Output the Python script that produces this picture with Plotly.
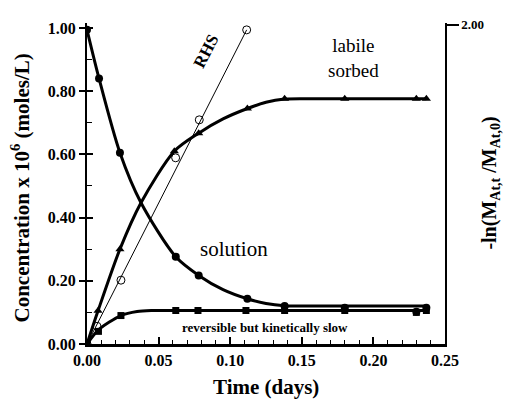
import plotly.graph_objects as go

# ---- data ----
# measured points (left axis, concentration x 1e6 mol/L)
t_solution = [0.0, 0.0084, 0.023, 0.062, 0.078, 0.112, 0.138, 0.180, 0.230, 0.237]
c_solution = [0.994, 0.84, 0.605, 0.276, 0.217, 0.143, 0.12, 0.115, 0.102, 0.115]

t_labile = [0.0077, 0.023, 0.061, 0.078, 0.112, 0.138, 0.180, 0.230, 0.237]
c_labile = [0.105, 0.30, 0.61, 0.667, 0.745, 0.776, 0.776, 0.776, 0.776]

t_reversible = [0.0, 0.008, 0.0237, 0.062, 0.0775, 0.111, 0.138, 0.180, 0.230, 0.237]
c_reversible = [0.0, 0.04, 0.09, 0.106, 0.106, 0.106, 0.106, 0.106, 0.10, 0.106]

# fitted curves
t_solution_fit = [0.0, 0.0084, 0.023, 0.0377, 0.062, 0.078, 0.095, 0.112, 0.125, 0.138, 0.16, 0.237]
c_solution_fit = [0.994, 0.84, 0.605, 0.447, 0.276, 0.217, 0.172, 0.143, 0.128, 0.121, 0.12, 0.12]

t_labile_fit = [0.0, 0.0077, 0.023, 0.0377, 0.061, 0.078, 0.095, 0.112, 0.125, 0.138, 0.16, 0.237]
c_labile_fit = [0.0, 0.105, 0.30, 0.447, 0.61, 0.667, 0.712, 0.745, 0.765, 0.775, 0.776, 0.776]

t_reversible_fit = [0.0, 0.008, 0.0237, 0.035, 0.045, 0.062, 0.237]
c_reversible_fit = [0.0, 0.045, 0.09, 0.103, 0.106, 0.106, 0.106]

# RHS (right axis, -ln(M_At,t / M_At,0))
t_rhs = [0.0, 0.007, 0.0237, 0.0619, 0.0784, 0.1115]
v_rhs = [0.0, 0.111, 0.40, 1.167, 1.405, 1.969]
t_rhs_fit = [0.0, 0.1115]
v_rhs_fit = [0.0, 1.969]

x_ticks = [0.0, 0.05, 0.10, 0.15, 0.20, 0.25]
y_ticks = [0.0, 0.2, 0.4, 0.6, 0.8, 1.0]
y2_ticks = [2.0]

FONT = "Liberation Serif"
BOLD = dict(family=FONT, size=16, color="black", weight="bold")

fig = go.Figure()

# fitted thick curves
for tx, ty in [(t_solution_fit, c_solution_fit), (t_labile_fit, c_labile_fit),
               (t_reversible_fit, c_reversible_fit)]:
    fig.add_trace(go.Scatter(x=tx, y=ty, mode="lines",
                             line=dict(color="black", width=3, shape="spline", smoothing=0.8),
                             hoverinfo="skip", showlegend=False))

# RHS line and points on right axis
fig.add_trace(go.Scatter(x=t_rhs_fit, y=v_rhs_fit, mode="lines", yaxis="y2",
                         line=dict(color="black", width=1), showlegend=False))
fig.add_trace(go.Scatter(x=t_rhs, y=v_rhs, mode="markers", yaxis="y2",
                         marker=dict(symbol="circle-open", size=8, color="black",
                                     line=dict(width=1, color="black")),
                         showlegend=False))

# measured markers
fig.add_trace(go.Scatter(x=t_solution, y=c_solution, mode="markers",
                         marker=dict(symbol="circle", size=8, color="black"), showlegend=False))
fig.add_trace(go.Scatter(x=t_labile, y=c_labile, mode="markers",
                         marker=dict(symbol="triangle-up", size=8, color="black"), showlegend=False))
fig.add_trace(go.Scatter(x=t_reversible, y=c_reversible, mode="markers",
                         marker=dict(symbol="square", size=7, color="black"), showlegend=False))

# the page body adds an 8px offset, so the figure is 8px smaller and margins shifted
fig.update_layout(
    width=506, height=393,
    margin=dict(l=79, r=69, t=9, b=57),
    paper_bgcolor="white", plot_bgcolor="white",
    font=dict(family=FONT, color="black"),
    xaxis=dict(range=[0, 0.25], tickvals=x_ticks,
               ticktext=[f"<b>{v:.2f}</b>" for v in x_ticks],
               showgrid=False, zeroline=False, showline=True, linecolor="black", linewidth=3,
               ticks="inside", ticklen=7, tickwidth=1.5, tickcolor="black",
               minor=dict(dtick=0.01, ticks="inside", ticklen=4, tickwidth=1, tickcolor="black"),
               tickfont=BOLD),
    yaxis=dict(range=[0, 1.0155], tickvals=y_ticks,
               ticktext=[f"<b>{v:.2f}</b>" for v in y_ticks],
               showgrid=False, zeroline=False, showline=True, linecolor="black", linewidth=2,
               ticks="outside", ticklen=6, tickwidth=1.5, tickcolor="black",
               minor=dict(dtick=0.1, ticks="inside", ticklen=5, tickwidth=1, tickcolor="black"),
               tickfont=BOLD),
    yaxis2=dict(range=[0, 2.012], overlaying="y", side="right", tickvals=y2_ticks,
                ticktext=["<b>2.00</b>"], showgrid=False, zeroline=False, showline=True,
                linecolor="black", linewidth=1.5, ticks="outside", ticklen=12, tickwidth=1.5,
                tickcolor="black", tickfont=dict(family=FONT, size=13, color="black", weight="bold")),
)

# inside tick marks at major y positions (overlay axis with no labels)
fig.update_layout(yaxis3=dict(range=[0, 1.0155], overlaying="y", side="left", dtick=0.2,
                              tick0=0, showticklabels=False, showgrid=False, zeroline=False,
                              showline=False, ticks="inside", ticklen=6, tickwidth=1.5,
                              tickcolor="black"))
fig.add_trace(go.Scatter(x=[0], y=[0], yaxis="y3", mode="markers",
                         marker=dict(opacity=0), hoverinfo="skip", showlegend=False))

annotations = [
    dict(text="Concentration x 10<sup>6</sup> (moles/L)", x=-0.183, y=0.486, textangle=-90,
         font=dict(family=FONT, size=21, color="black", weight="bold")),
    dict(text="-ln(M<sub>At,t</sub> /M<sub>At,0</sub>)", x=1.126, y=0.50, textangle=-90,
         font=dict(family=FONT, size=20, color="black", weight="bold")),
    dict(text="Time (days)", x=0.5, y=-0.134,
         font=dict(family=FONT, size=21, color="black", weight="bold")),
]
for a in annotations:
    a.update(xref="paper", yref="paper", showarrow=False, xanchor="center", yanchor="middle")
    fig.add_annotation(**a)

labels = [
    dict(text="RHS", x=0.0831, y=0.925, textangle=-63,
         font=dict(family=FONT, size=17, color="black", weight="bold")),
    dict(text="labile<br>sorbed", x=0.1864, y=0.904,
         font=dict(family=FONT, size=19, color="black")),
    dict(text="solution", x=0.1027, y=0.301,
         font=dict(family=FONT, size=21, color="black")),
    dict(text="reversible but kinetically slow", x=0.1243, y=0.053,
         font=dict(family=FONT, size=13, color="black", weight="bold")),
]
for a in labels:
    a.update(xref="x", yref="y", showarrow=False, xanchor="center", yanchor="middle")
    fig.add_annotation(**a)

fig.write_html("out.html")
